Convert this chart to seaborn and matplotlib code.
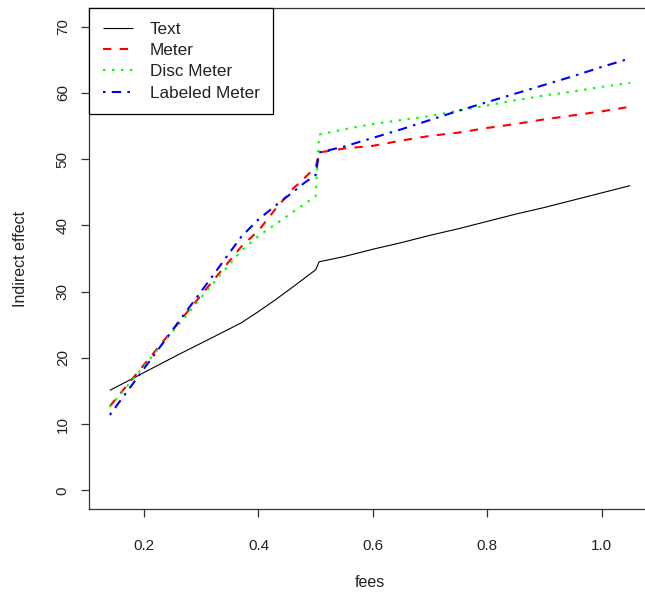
import matplotlib
matplotlib.use("Agg")
import matplotlib.pyplot as plt
import numpy as np
import pandas as pd
import seaborn as sns

# Fee levels at which the indirect effect was evaluated
fees = [0.14, 0.20, 0.26, 0.32, 0.37, 0.40, 0.43, 0.46, 0.48, 0.50, 0.506,
        0.55, 0.60, 0.65, 0.70, 0.75, 0.80, 0.85, 0.90, 0.95, 1.00, 1.05]

# Indirect effect per display format
text_eff = [15.1, 17.8, 20.5, 23.1, 25.3, 27.0, 28.8, 30.7, 32.0, 33.3, 34.5,
            35.3, 36.4, 37.4, 38.5, 39.5, 40.6, 41.7, 42.7, 43.8, 44.9, 46.0]
meter_eff = [12.7, 19.0, 25.3, 31.6, 36.8, 39.2, 42.5, 45.5, 47.1, 48.8, 51.0,
             51.6, 52.0, 52.8, 53.5, 54.0, 54.7, 55.3, 56.0, 56.6, 57.2, 57.9]
disc_eff = [12.6, 18.8, 25.0, 31.2, 36.2, 38.4, 40.2, 42.0, 43.2, 44.4, 53.7,
            54.5, 55.3, 55.9, 56.5, 57.3, 58.1, 58.9, 59.6, 60.2, 60.9, 61.5]
labeled_eff = [11.4, 18.4, 25.4, 32.4, 38.3, 40.9, 43.0, 45.0, 46.4, 47.6, 51.0,
               51.9, 53.2, 54.5, 55.9, 57.3, 58.6, 59.9, 61.2, 62.5, 63.9, 65.2]

series_names = ["Text", "Meter", "Disc Meter", "Labeled Meter"]
series_values = [text_eff, meter_eff, disc_eff, labeled_eff]
colors = ["black", "#FF0000", "#00FF00", "#0000FF"]
widths = [0.8, 1.5, 1.5, 1.5]
dashes = [None, (4, 4), (1.2, 3.1), (1.2, 3, 4.5, 3)]

x_ticks = [0.2, 0.4, 0.6, 0.8, 1.0]
y_ticks = [0, 10, 20, 30, 40, 50, 60, 70]

df = pd.DataFrame({
    "fees": np.tile(fees, len(series_names)),
    "effect": np.concatenate(series_values),
    "format": np.repeat(series_names, len(fees)),
})

sns.set_theme(style="white")
plt.rcParams["font.family"] = ["Liberation Sans", "DejaVu Sans"]

W, H = 645, 594
fig = plt.figure(figsize=(W / 100, H / 100), dpi=100)
left, right, top, bottom = 89, 651, 8, 509
ax = fig.add_axes([left / W, (H - bottom) / H, (right - left) / W, (bottom - top) / H])

for name, col, lw, ds in zip(series_names, colors, widths, dashes):
    sub = df[df["format"] == name]
    sns.lineplot(data=sub, x="fees", y="effect", ax=ax, color=col, lw=lw,
                 estimator=None, sort=False, label=name)
    line = ax.get_lines()[-1]
    if ds is None:
        line.set_linestyle("-")
    else:
        line.set_dashes(ds)
    line.set_dash_capstyle("butt")
    line.set_solid_capstyle("butt")

ax.set_xlim(0.1036, 1.0864)
ax.set_ylim(-2.8, 72.8)
ax.set_xticks(x_ticks)
ax.set_xticklabels([f"{t:.1f}" for t in x_ticks])
ax.set_yticks(y_ticks)
ax.set_yticklabels([str(t) for t in y_ticks], rotation=90, va="center")

for s in ax.spines.values():
    s.set_visible(True)
    s.set_color("#333333")
    s.set_linewidth(0.9)

ax.tick_params(axis="both", direction="out", length=5.8, width=0.9, color="#333333",
               labelsize=11, labelcolor="#222222", bottom=True, left=True)
ax.tick_params(axis="x", pad=16)
ax.tick_params(axis="y", pad=8)

ax.set_xlabel("fees", fontsize=11.5, color="#222222", labelpad=15.5)
ax.set_ylabel("Indirect effect", fontsize=11.5, color="#222222", labelpad=20)

leg = ax.legend(loc="upper left", borderaxespad=0, fontsize=12.3, frameon=True,
                fancybox=False, framealpha=1, edgecolor="black",
                handlelength=1.8, handletextpad=0.95, labelspacing=0.37,
                borderpad=0.8)
leg.get_frame().set_linewidth(0.9)
for t in leg.get_texts():
    t.set_color("#222222")

fig.savefig("out.png", dpi=100)
